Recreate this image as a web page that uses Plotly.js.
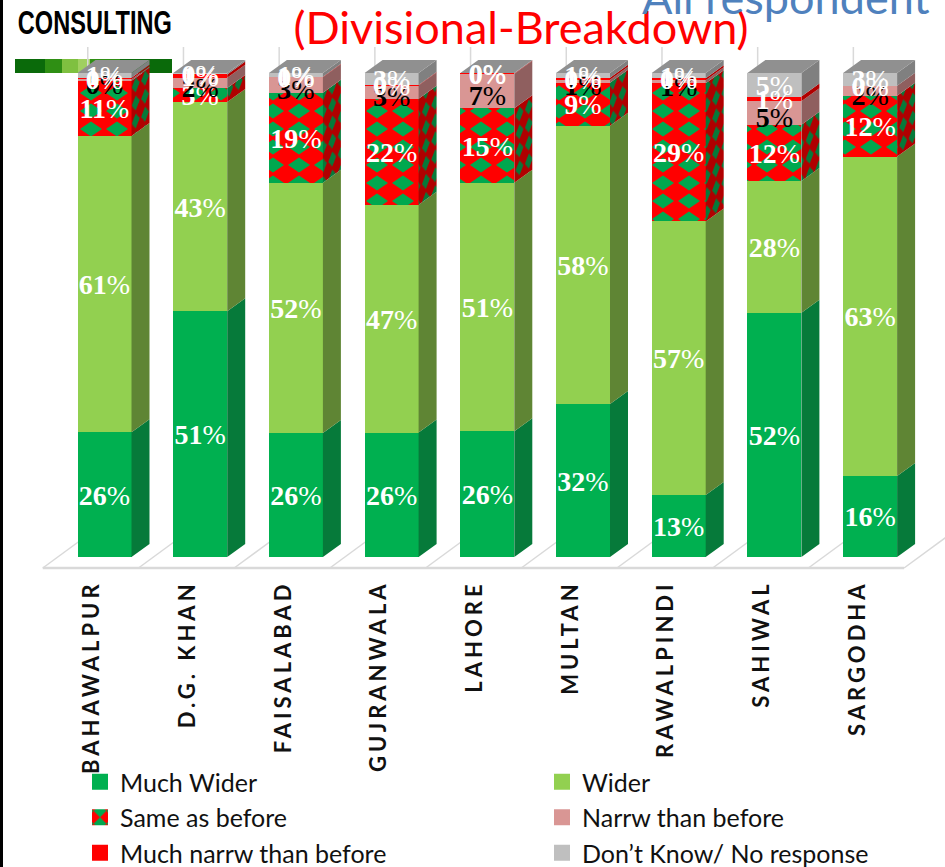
<!DOCTYPE html>
<html><head><meta charset="utf-8">
<script src="https://cdn.plot.ly/plotly-3.0.1.min.js"></script>
<style>
html,body{margin:0;padding:0;background:#fff}
.xtick text{letter-spacing:4px}
</style></head><body>
<div id="chart" style="width:945px;height:867px"></div>
<script>
const categories = ["BAHAWALPUR","D.G. KHAN","FAISALABAD","GUJRANWALA","LAHORE","MULTAN","RAWALPINDI","SAHIWAL","SARGODHA"];
const seriesNames = ["Much Wider","Wider","Same as before","Narrw than before","Much narrw than before","Don’t Know/ No response"];
const muchWider  = [25.8,50.8,25.6,25.7,26.0,31.6,12.8,52,16];
const wider      = [61.2,43.2,51.7,47.1,51.3,57.5,56.6,28,63];
const same       = [11.4, 2.9,18.6,21.9,15.4, 8.9,28.6,12,12];
const narrower   = [0.3, 2.1, 3.2, 2.7, 7.1, 0.6, 0.6, 5, 2];
const muchNarrow = [0.3, 0.7, 0.1, 0.1, 0.1, 0.4, 0.4, 1, 0];
const dontKnow   = [1.0, 0.3, 0.8, 2.5, 0.1, 1.0, 1.1, 5, 2.5];
const allSeries = [muchWider,wider,same,narrower,muchNarrow,dontKnow];
const frontColors = ["#00b050","#92d050","#ff0000","#d99694","#ff0000","#bfbfbf"];
const sideColors  = ["#067a3a","#5f8534","#b00000","#8f5f5f","#b00000","#808080"];
const labelColors = ["#fff","#fff","#fff","#000","#fff","#fff"];

const PX=95.7, PY=4.84, TOP=30, BOT=575;
const BAR_W = 54/PX, DX = 18/PX, DY = 13/PY;
const totals = categories.map((_,i)=>allSeries.reduce((a,s)=>a+s[i],0));
const traces = [];

allSeries.forEach((s,k)=>{
  const t={type:"bar",name:seriesNames[k],x:categories.map((_,i)=>i),y:s,width:BAR_W,
    marker:{color:frontColors[k],line:{width:0}},hoverinfo:"skip"};
  if(k===2) t.marker.pattern={shape:"x",bgcolor:"#ff0000",fgcolor:"#00a84f",size:16,solidity:0.5,fillmode:"replace"};
  traces.push(t);
});
allSeries.forEach((s,k)=>{
  const xs=[],ys=[];
  categories.forEach((_,i)=>{
    let b=0;for(let j=0;j<k;j++)b+=allSeries[j][i]*100/totals[i];
    const h=s[i]*100/totals[i],r=i+BAR_W/2;
    xs.push(r,r+DX,r+DX,r,r,null);ys.push(b,b+DY,b+h+DY,b+h,b,null);
  });
  const t={type:"scatter",mode:"none",x:xs,y:ys,fill:"toself",fillcolor:sideColors[k],showlegend:false,hoverinfo:"skip"};
  if(k===2) t.fillpattern={shape:"x",bgcolor:"#b00000",fgcolor:"#067a3a",size:16,solidity:0.5,fillmode:"replace"};
  traces.push(t);
});
{const xs=[],ys=[];categories.forEach((_,i)=>{const l=i-BAR_W/2,r=i+BAR_W/2;
  xs.push(l,r,r+DX,l+DX,l,null);ys.push(100,100,100+DY,100+DY,100,null);});
 traces.push({type:"scatter",mode:"none",x:xs,y:ys,fill:"toself",fillcolor:"#909090",showlegend:false,hoverinfo:"skip"});}
allSeries.forEach((s,k)=>{
  const drop=(k===3?7:3)/PY;
  const ys=categories.map((_,i)=>{let b=0;for(let j=0;j<k;j++)b+=allSeries[j][i]*100/totals[i];return b+s[i]*50/totals[i]-drop;});
  traces.push({type:"scatter",mode:"text",x:categories.map((_,i)=>i),y:ys,text:s.map(v=>"<b>"+Math.round(v)+"</b>%"),
    textposition:"middle center",cliponaxis:false,textfont:{family:"Liberation Serif",size:28,color:labelColors[k]},showlegend:false,hoverinfo:"skip"});
});

const H=BOT-TOP, py=p=>(BOT-p)/H;
const line=(x0,y0,x1,y1,w)=>({type:"line",xref:"x",yref:"y",x0,y0,x1,y1,line:{color:"#d9d9d9",width:w},layer:"below"});
const wall=[];const FL=-11/PY, EDGE=-0.645, BACKX=45/PX, BACKY=33/PY;
categories.forEach((_,i)=>{
  wall.push(line(i+EDGE,FL,i+EDGE+BACKX,FL+BACKY,1.5));
  wall.push(line(i+EDGE+BACKX,FL+BACKY,i+EDGE+BACKX,100+DY+2.7,1.5));
});
wall.push(line(EDGE,FL,8+1+EDGE,FL,2.5));
wall.push(line(9+EDGE,FL,9+EDGE+BACKX,FL+BACKY,1.5));

const layout={
  width:945,height:867,paper_bgcolor:"#fff",plot_bgcolor:"#fff",showlegend:true,
  margin:{l:0,r:0,t:TOP,b:867-BOT,autoexpand:false},
  barmode:"stack",barnorm:"percent",
  title:{text:"(Divisional-Breakdown)",font:{family:"Lato",size:45,color:"#ff0000"},x:521/945,xanchor:"center",y:0.968,yanchor:"middle"},
  xaxis:{range:[-104.5/PX,840.5/PX],tickmode:"array",tickvals:categories.map((_,i)=>i-0.13),ticktext:categories,
    tickangle:-90,ticks:"",tickfont:{family:"Lato",size:22,weight:"bold",color:"#111"},showgrid:false,zeroline:false,showline:false},
  yaxis:{range:[(557-BOT)/PY,(557-TOP)/PY],visible:false},
  legend:{orientation:"h",x:80/945,xanchor:"left",y:py(759),yanchor:"top",entrywidth:417,entrywidthmode:"pixels",
    traceorder:"normal",font:{family:"Lato",size:25,color:"#111"},bgcolor:"rgba(0,0,0,0)"},
  annotations:[
    {text:"CONSULTING",xref:"paper",yref:"paper",x:-15/945,y:py(23),xanchor:"left",yanchor:"middle",showarrow:false,font:{family:"Liberation Sans",size:33,weight:"bold",color:"#000"}},
    {text:"All respondent",xref:"paper",yref:"paper",x:640/945,y:py(-3),xanchor:"left",yanchor:"middle",showarrow:false,font:{family:"Lato",size:45,color:"#4f81bd"}}
  ],
  shapes:[
    ...wall,
    {type:"rect",xref:"paper",yref:"paper",x0:0,x1:3/945,y0:py(867),y1:py(0),fillcolor:"#000",line:{width:0},layer:"above"},
    ...[[15,45,"#0a6a0a"],[45,62,"#2f8f14"],[62,78,"#7fc040"],[78,90,"#a0d060"],[90,120,"#2f8f14"],[120,172,"#0a6a0a"]].map(g=>(
      {type:"rect",xref:"paper",yref:"paper",x0:g[0]/945,x1:g[1]/945,y0:py(73),y1:py(59),fillcolor:g[2],line:{width:0},layer:"below"}))
  ]
};
Plotly.newPlot("chart",traces,layout,{displayModeBar:false,staticPlot:true}).then(()=>{
  document.querySelectorAll("pattern").forEach(p=>{
    const rect=p.querySelector("rect"), path=p.querySelector("path"); if(!rect||!path) return;
    const inLegend=/legend/.test(p.id), bg=rect.getAttribute("fill")||rect.style.fill||"";
    const side=/176/.test(bg)||/b00000/i.test(bg);
    const fg=side?"#067a3a":"#00a84f";
    let w=26,h=18,d="M2,9L13,1.5L24,9L13,16.5Z";
    if(inLegend){w=16;h=16;d="M0,0L8,8L0,8ZM16,0L16,8L8,8ZM0,16L8,8L0,8ZM16,16L16,8L8,8Z";}
    p.setAttribute("width",w);p.setAttribute("height",h);
    rect.setAttribute("width",w);rect.setAttribute("height",h);
    path.setAttribute("d",d);path.style.fill=fg;path.style.stroke="none";path.setAttribute("fill",fg);path.setAttribute("stroke","none");
    if(side) p.setAttribute("patternTransform","matrix(0.36,-0.26,0,1,0,0)");
  });
  document.querySelectorAll(".legendpoints path").forEach(q=>{ q.setAttribute("d","M8,8H-8V-8H8Z"); });
  document.querySelectorAll(".annotation-text").forEach(t=>{
    if(t.textContent==="CONSULTING"){t.setAttribute("textLength",154);t.setAttribute("lengthAdjust","spacingAndGlyphs");}
  });
});
</script></body></html>
